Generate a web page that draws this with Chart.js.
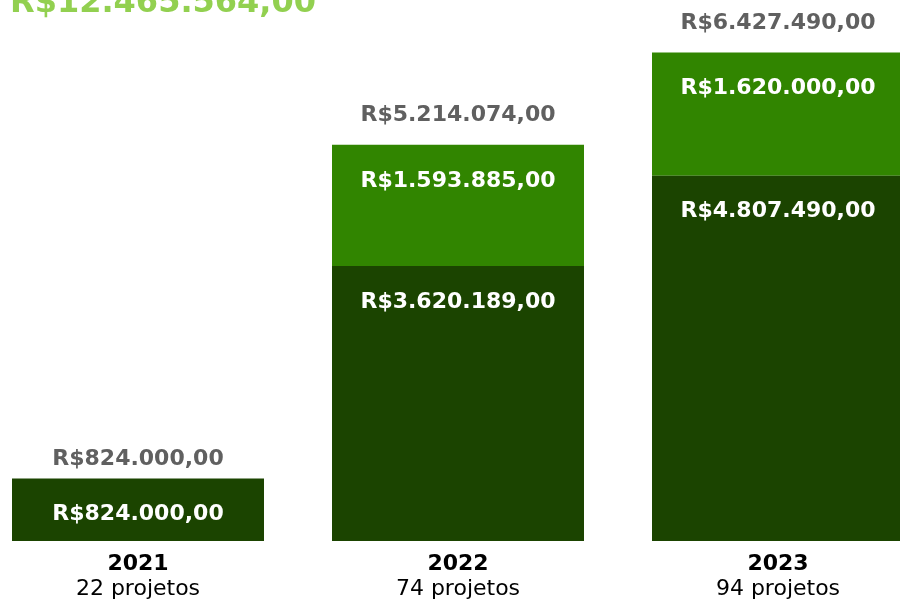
<!DOCTYPE html>
<html>
<head>
<meta charset="utf-8">
<script src="https://cdn.jsdelivr.net/npm/chart.js@4/dist/chart.umd.min.js"></script>
<style>
html,body{margin:0;padding:0;width:900px;height:599px;overflow:hidden;background:#fff;}
#c{position:absolute;left:-22px;top:0;}
</style>
</head>
<body>
<canvas id="c" width="960" height="599"></canvas>
<script>
const years = ['2021', '2022', '2023'];
const projects = ['22 projetos', '74 projetos', '94 projetos'];
const baseValues = [824000, 3620189, 4807490];
const topValues = [0, 1593885, 1620000];

const DARK = '#1b4400';
const LIGHT = '#318500';
const FONT = '"DejaVu Sans", Verdana, sans-serif';

function brl(v) {
  const s = Math.round(v).toString().replace(/\B(?=(\d{3})+(?!\d))/g, '.');
  return 'R$' + s + ',00';
}
const totals = years.map((_, i) => baseValues[i] + topValues[i]);
const grandTotal = totals.reduce((a, b) => a + b, 0);

const labelPlugin = {
  id: 'labels',
  afterDatasetsDraw(chart) {
    const ctx = chart.ctx;
    ctx.save();
    ctx.textAlign = 'center';
    ctx.textBaseline = 'middle';
    chart.data.datasets.forEach((ds, di) => {
      const meta = chart.getDatasetMeta(di);
      meta.data.forEach((bar, i) => {
        const v = ds.data[i];
        if (!v) return;
        ctx.fillStyle = '#ffffff';
        ctx.font = 'bold 22px ' + FONT;
        ctx.fillText(brl(v), bar.x, bar.y + 36);
      });
    });
    const yScale = chart.scales.y;
    const xScale = chart.scales.x;
    const offs = [19, 30, 29];
    totals.forEach((t, i) => {
      const x = xScale.getPixelForValue(i);
      const y = yScale.getPixelForValue(t);
      ctx.fillStyle = '#606060';
      ctx.font = 'bold 22px ' + FONT;
      ctx.fillText(brl(t), x, y - offs[i]);
    });
    const bottom = chart.chartArea.bottom;
    years.forEach((yr, i) => {
      const x = xScale.getPixelForValue(i);
      ctx.fillStyle = '#000000';
      ctx.font = 'bold 22px ' + FONT;
      ctx.fillText(yr, x, bottom + 23);
      ctx.font = '22px ' + FONT;
      ctx.fillText(projects[i], x, bottom + 48);
    });
    ctx.textAlign = 'left';
    ctx.textBaseline = 'alphabetic';
    ctx.fillStyle = '#92d050';
    ctx.font = 'bold 32px ' + FONT;
    ctx.fillText(brl(grandTotal), 32, 12);
    ctx.restore();
  }
};

new Chart(document.getElementById('c'), {
  type: 'bar',
  data: {
    labels: years,
    datasets: [
      { data: baseValues, backgroundColor: DARK, borderWidth: 0 },
      { data: topValues, backgroundColor: LIGHT, borderWidth: 0 }
    ]
  },
  options: {
    responsive: false,
    animation: false,
    layout: { padding: { top: 0, bottom: 58, left: 0, right: 0 } },
    plugins: { legend: { display: false }, tooltip: { enabled: false }, title: { display: false } },
    datasets: { bar: { categoryPercentage: 1, barPercentage: 0.7875 } },
    scales: {
      x: { stacked: true, display: false },
      y: { stacked: true, display: false, min: 0, max: 7120000 }
    }
  },
  plugins: [labelPlugin]
});
</script>
</body>
</html>
